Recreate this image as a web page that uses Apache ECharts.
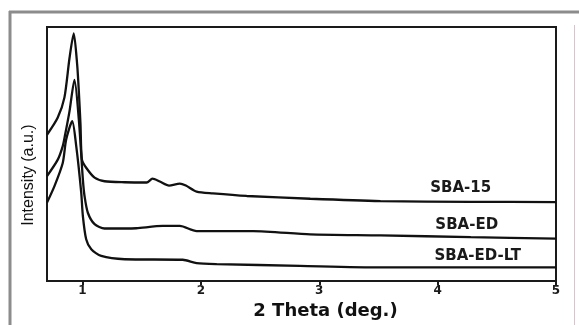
<!DOCTYPE html>
<html>
<head>
<meta charset="utf-8">
<script src="https://cdn.jsdelivr.net/npm/echarts@6/dist/echarts.min.js"></script>
<style>
  html, body { margin: 0; padding: 0; background: #fff; }
  #chart { width: 579px; height: 325px; }
</style>
</head>
<body>
<div id="chart"></div>
<script>
// 2 theta (deg.) vs intensity (a.u., 0-100 of the frame)
const sba15Theta = [0.70, 0.79, 0.847, 0.89, 0.926, 0.955, 0.969, 0.983, 0.995, 1.031, 1.102, 1.186, 1.356, 1.542, 1.591, 1.653, 1.731, 1.822, 1.873, 1.964, 2.102, 2.387, 2.924, 3.517, 4.28, 5.0];
const sba15Int = [57.6, 64.3, 72.2, 87.7, 97.5, 85.1, 74.6, 61.6, 47.8, 44.6, 40.7, 39.3, 38.9, 38.8, 40.3, 39.2, 37.6, 38.4, 37.6, 35.2, 34.5, 33.5, 32.4, 31.5, 31.2, 31.1];

const sbaEdTheta = [0.70, 0.791, 0.833, 0.853, 0.89, 0.932, 0.969, 1.003, 1.017, 1.045, 1.102, 1.186, 1.356, 1.455, 1.678, 1.822, 1.964, 2.441, 2.924, 3.517, 4.28, 5.0];
const sbaEdInt = [41.3, 47.8, 53.1, 57.6, 66.8, 79.2, 63.5, 40.0, 33.5, 26.9, 22.4, 20.7, 20.7, 20.8, 21.7, 21.7, 19.7, 19.7, 18.4, 18.0, 17.3, 16.7];

const sbaEdLtTheta = [0.70, 0.763, 0.833, 0.862, 0.913, 0.947, 0.989, 1.003, 1.031, 1.074, 1.158, 1.356, 1.847, 1.964, 2.133, 2.837, 3.517, 5.0];
const sbaEdLtInt = [30.9, 37.4, 46.5, 55.7, 62.9, 53.1, 34.9, 25.6, 16.5, 12.5, 9.9, 8.6, 8.4, 7.1, 6.7, 6.0, 5.4, 5.4];

const seriesNames = ['SBA-15', 'SBA-ED', 'SBA-ED-LT'];
const tickValues = [1, 2, 3, 4, 5];

const pairs = (xs, ys) => xs.map((x, i) => [x, ys[i]]);

const chart = echarts.init(document.getElementById('chart'));

function curve(name, data, labelAt) {
  return {
    name: name,
    type: 'line',
    data: data,
    smooth: 0.25,
    showSymbol: false,
    lineStyle: { color: '#111', width: 2.3 },
    markPoint: {
      silent: true,
      symbol: 'circle',
      symbolSize: 0,
      data: [{ coord: labelAt }],
      label: {
        show: true,
        position: 'inside',
        formatter: name,
        color: '#1a1a1a',
        fontFamily: 'DejaVu Sans',
        fontWeight: 'bold',
        fontSize: 15
      }
    }
  };
}

const option = {
  animation: false,
  backgroundColor: '#fff',
  grid: {
    left: 47, right: 23, top: 27, bottom: 43,
    show: true, borderColor: '#1a1a1a', borderWidth: 2
  },
  xAxis: {
    type: 'value',
    min: 0.7, max: 5,
    name: '2 Theta (deg.)',
    nameLocation: 'middle',
    nameGap: 19,
    nameTextStyle: {
      fontFamily: 'DejaVu Sans', fontWeight: 'bold', fontSize: 18,
      color: '#111', verticalAlign: 'top', padding: [0, 0, 0, 48]
    },
    axisLine: { onZero: false, lineStyle: { color: '#1a1a1a', width: 2 } },
    axisTick: { show: true, length: 4, customValues: tickValues, lineStyle: { color: '#1a1a1a', width: 2 } },
    axisLabel: {
      customValues: tickValues, margin: 4,
      fontFamily: 'DejaVu Sans', fontWeight: 'bold', fontSize: 12, color: '#1a1a1a'
    },
    splitLine: { show: false }
  },
  yAxis: {
    type: 'value',
    min: 0, max: 100,
    name: 'Intensity (a.u.)',
    nameLocation: 'middle',
    nameGap: 10,
    nameTextStyle: {
      fontFamily: 'Liberation Sans', fontSize: 16, color: '#111',
      padding: [0, 42, 0, 0]
    },
    axisLine: { show: true, lineStyle: { color: '#1a1a1a', width: 2 } },
    axisTick: { show: false },
    axisLabel: { show: false },
    splitLine: { show: false }
  },
  graphic: [
    { type: 'line', silent: true, shape: { x1: 9, y1: 12, x2: 579, y2: 12 }, style: { stroke: '#8c8c8c', lineWidth: 3 } },
    { type: 'line', silent: true, shape: { x1: 10, y1: 11, x2: 10, y2: 325 }, style: { stroke: '#8c8c8c', lineWidth: 3 } },
    { type: 'line', silent: true, shape: { x1: 574.5, y1: 25, x2: 574.5, y2: 325 }, style: { stroke: '#dcc3ca', lineWidth: 1 } }
  ],
  series: [
    curve(seriesNames[0], pairs(sba15Theta, sba15Int), [4.195, 36.5]),
    curve(seriesNames[1], pairs(sbaEdTheta, sbaEdInt), [4.246, 22.0]),
    curve(seriesNames[2], pairs(sbaEdLtTheta, sbaEdLtInt), [4.339, 9.8])
  ]
};

chart.setOption(option);
</script>
</body>
</html>
